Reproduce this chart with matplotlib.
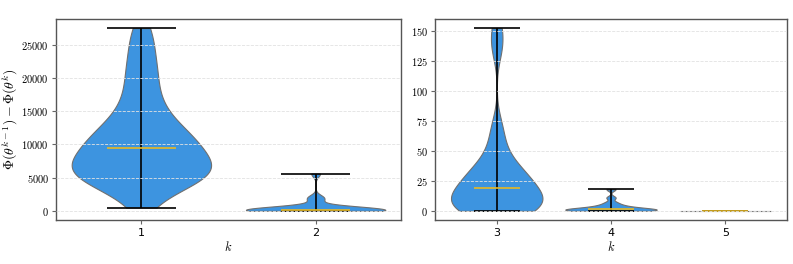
import numpy as np
import matplotlib
matplotlib.use("Agg")
import matplotlib.pyplot as plt
from matplotlib import cbook
from matplotlib.ticker import FuncFormatter

plt.rcParams['mathtext.fontset'] = 'cm'

# samples (approximate)
k1 = [500, 2800, 3800, 4400, 4800, 5100, 5300, 5500, 5600, 5800, 6000, 6200, 6500,
      6800, 7200, 7700, 8300, 8900, 9400, 9700, 10000, 10300, 10700, 11100, 11600,
      12200, 12900, 13700, 14600, 15700, 17000, 18600, 20300, 21500, 23500, 25500, 27500]
k2 = [0, 5, 10, 20, 30, 40, 60, 80, 100, 120, 150, 180, 220, 280, 350, 450, 600, 1800, 2000, 5600]
k3 = [0, 0, 1, 2, 3, 5, 6, 8, 10, 12, 15, 19, 21, 24, 27, 30, 33, 36, 44, 55, 70, 135, 152]
k4 = [0, 0, 0, 0, 0.5, 1, 1, 1.5, 1.5, 2, 2, 3, 4, 5, 7, 11, 18]
k5 = [0, 0, 0, 0, 0]

left_pos = [1, 2]
right_pos = [3, 4, 5]

BLUE = '#3d94e0'
GOLD = '#e8b923'


def kde(x, coords, bw=0.35):
    x = np.asarray(x, float)
    if np.ptp(x) == 0:
        return np.ones_like(coords)
    h = bw * x.std(ddof=1)
    d = (coords[:, None] - x[None, :]) / h
    return np.exp(-0.5 * d ** 2).sum(axis=1)


def draw(ax, data, pos, bw):
    stats = cbook.violin_stats(data, lambda x, c: kde(x, c, bw), points=200)
    parts = ax.violin(stats, positions=pos, widths=0.8, showmedians=True)
    for b in parts['bodies']:
        b.set_facecolor(BLUE)
        b.set_edgecolor('#707070')
        b.set_linewidth(0.8)
        b.set_alpha(1)
    for key in ['cmaxes', 'cmins', 'cbars']:
        parts[key].set_color('black')
        parts[key].set_linewidth(1.2)
    parts['cmedians'].set_color(GOLD)
    parts['cmedians'].set_linewidth(1.2)
    ax.set_xticks(pos)
    ax.set_xticklabels([str(p) for p in pos], fontsize=8)
    ax.yaxis.set_major_formatter(FuncFormatter(lambda v, p: '$%d$' % v))
    ax.tick_params(axis='y', labelsize=7.5, length=3, pad=2, color='#666666')
    ax.tick_params(axis='x', length=3, pad=3, color='#666666')
    ax.grid(axis='y', linestyle='--', color='#e2e2e2', linewidth=0.6)
    ax.set_axisbelow(False)
    for s in ax.spines.values():
        s.set_color('#555555')
        s.set_linewidth(1)
    ax.set_xlabel('$k$', fontsize=9, labelpad=1)


fig = plt.figure(figsize=(7.93, 2.64), dpi=100)
ax1 = fig.add_axes([56 / 793, 44 / 264, 345 / 793, 201 / 264])
ax2 = fig.add_axes([435 / 793, 44 / 264, 352 / 793, 201 / 264])

draw(ax1, [k1, k2], left_pos, 0.38)
draw(ax2, [k3, k4, k5], right_pos, 0.3)
ax1.set_yticks([0, 5000, 10000, 15000, 20000, 25000])
ax2.set_yticks([0, 25, 50, 75, 100, 125, 150])
ax1.set_ylabel(r'$\Phi(\theta^{k-1}) - \Phi(\theta^k)$', fontsize=10)
ax1.yaxis.set_label_coords(-0.105, 0.5)

fig.savefig('out.png', dpi=100)
